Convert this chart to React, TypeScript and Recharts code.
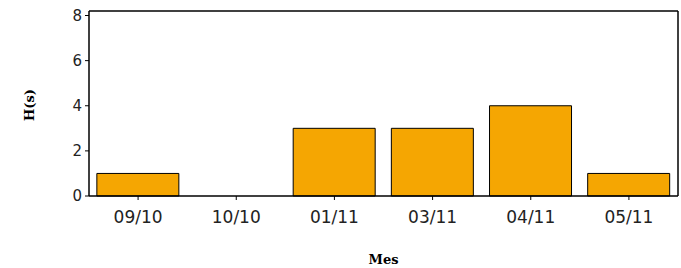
import { BarChart, Bar, XAxis, YAxis, CartesianGrid } from "recharts";

const months = ["09/10", "10/10", "01/11", "03/11", "04/11", "05/11"];
const hours = [1, 0, 3, 3, 4, 1];
const yTicks = [0, 2, 4, 6, 8];

const data = months.map((m, i) => ({ mes: m, h: hours[i] }));

const tickStyle = { fontSize: 15, fill: "#222", fontFamily: "DejaVu Sans" };
const labelStyle = {
  fontFamily: "DejaVu Serif, serif",
  fontWeight: "bold",
  fontSize: 13,
  fill: "#000",
};

function YLabel() {
  return (
    <text
      x={34}
      y={105}
      transform="rotate(-90 34 105)"
      textAnchor="middle"
      style={labelStyle}
    >
      H(s)
    </text>
  );
}

export default function App() {
  return (
    <div style={{ position: "absolute", left: 0, top: 0, background: "#fff" }}>
      <BarChart
        width={681}
        height={268}
        data={data}
        margin={{ top: 11, right: 3, left: 0, bottom: 0 }}
        barCategoryGap="8%"
      >
        {/* frame: top and right edges of the plot box */}
        <CartesianGrid
          stroke="#000"
          strokeWidth={1.5}
          horizontalCoordinatesGenerator={({ offset }: any) => [offset.top]}
          verticalCoordinatesGenerator={({ offset }: any) => [offset.left + offset.width]}
        />
        <XAxis
          dataKey="mes"
          height={72}
          tick={{ ...tickStyle, fontSize: 17 }}
          tickSize={4}
          tickMargin={11}
          axisLine={{ stroke: "#000", strokeWidth: 1.5 }}
          tickLine={{ stroke: "#000" }}
          label={{ value: "Mes", position: "insideBottom", offset: 4, style: labelStyle }}
        />
        <YAxis
          width={89}
          domain={[0, 8.2]}
          ticks={yTicks}
          tick={tickStyle}
          tickSize={4}
          tickMargin={3}
          axisLine={{ stroke: "#000", strokeWidth: 1.5 }}
          tickLine={{ stroke: "#000" }}
          label={<YLabel />}
        />
        <Bar
          dataKey="h"
          fill="#f5a602"
          stroke="#000"
          strokeWidth={1}
          isAnimationActive={false}
        />
      </BarChart>
    </div>
  );
}
